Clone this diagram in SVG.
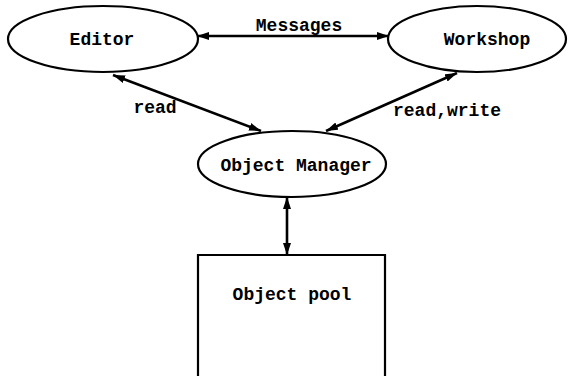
<svg xmlns="http://www.w3.org/2000/svg" width="571" height="376" viewBox="0 0 571 376">
<style>
.n{fill:#fff;stroke:#000;stroke-width:2.2}
.t{font-family:"Liberation Mono","Courier New",monospace;font-weight:bold;font-size:18px;fill:#000;text-anchor:middle}
.c{stroke:#000;stroke-width:2.6;fill:none;marker-start:url(#ah);marker-end:url(#ah)}
</style>
<defs>
<marker id="ah" viewBox="0 0 12 8" refX="12" refY="4" markerWidth="12" markerHeight="8" markerUnits="userSpaceOnUse" orient="auto-start-reverse">
<path d="M0,0 L12,4 L0,8 z" fill="#000"/>
</marker>
</defs>
<rect width="571" height="376" fill="#fff"/>
<g id="connectors">
<line class="c" x1="197" y1="36" x2="389" y2="36"/>
<text class="t" x="299" y="31">Messages</text>
<line class="c" x1="113" y1="75" x2="261" y2="131"/>
<text class="t" x="155" y="113">read</text>
<line class="c" x1="457" y1="73" x2="326" y2="131"/>
<text class="t" x="447" y="116">read,write</text>
<line class="c" x1="287" y1="197" x2="287" y2="255"/>
</g>
<g id="editor">
<ellipse class="n" cx="103" cy="39" rx="95" ry="33"/>
<text class="t" x="102" y="45">Editor</text>
</g>
<g id="workshop">
<ellipse class="n" cx="477" cy="39" rx="89" ry="33"/>
<text class="t" x="487" y="45">Workshop</text>
</g>
<g id="object-manager">
<ellipse class="n" cx="292" cy="164" rx="94" ry="33"/>
<text class="t" x="296" y="171">Object Manager</text>
</g>
<g id="object-pool">
<path class="n" d="M198,380 L198,255 L385,255 L385,380"/>
<text class="t" x="292" y="300">Object pool</text>
</g>
</svg>
